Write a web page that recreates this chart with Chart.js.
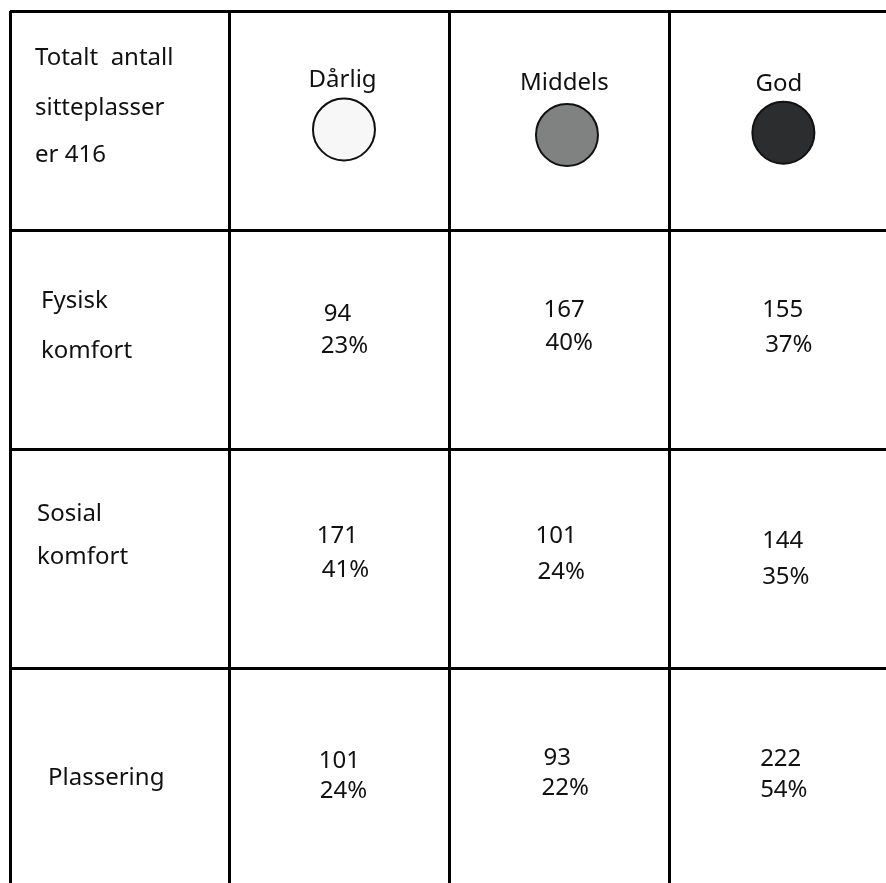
<!DOCTYPE html>
<html>
<head>
<meta charset="utf-8">
<script src="https://cdn.jsdelivr.net/npm/chart.js@4/dist/chart.umd.min.js"></script>
<style>
  html, body { margin: 0; padding: 0; background: #fff; }
  #wrap { width: 886px; height: 883px; }
</style>
</head>
<body>
<div id="wrap"><canvas id="chart" width="886" height="883"></canvas></div>
<script>
// Table content
const totalSeats = 416;
const ratings = ['Dårlig', 'Middels', 'God'];
const ratingColors = ['#f7f7f7', '#808181', '#2b2d2f'];
const aspects = [['Fysisk', 'komfort'], ['Sosial', 'komfort'], ['Plassering']];
const fysiskCounts = [94, 167, 155];
const sosialCounts = [171, 101, 144];
const plasseringCounts = [101, 93, 222];
const fysiskPct = [23, 40, 37];
const sosialPct = [41, 24, 35];
const plasseringPct = [24, 22, 54];

const counts = [fysiskCounts, sosialCounts, plasseringCounts];
const pcts = [fysiskPct, sosialPct, plasseringPct];

// hand-placed look of the original: offsets from cell left / cell middle (px)
const valueNudge = [
    [[94, -26, 91, 6], [94, -30, 96, 3], [93, -30, 96, 5]],
    [[87, -23, 92, 11], [86, -23, 88, 13], [93, -18, 93, 18]],
    [[89, -17, 90, 13], [94, -20, 92, 10], [91, -19, 91, 12]]
];
const circleNudge = [[0.02, 0.04], [0.035, 0.065], [0.02, 0.055]];
const headNudge = [[3, -41], [5, -38], [0, -37]];
const rowLabelNudge = [[31, -39, 11], [27, -45, -2], [38, 0, 0]];

const FONT = '"Noto Sans", "Open Sans", sans-serif';

const circles = ratings.map((r, i) => ({
    x: i + 1.5 + circleNudge[i][0],
    y: 0.5 + circleNudge[i][1]
}));

const textPlugin = {
    id: 'tableText',
    afterDatasetsDraw(chart) {
        const ctx = chart.ctx;
        const xs = chart.scales.x, ys = chart.scales.y;
        const left = c => xs.getPixelForValue(c);
        const mid = r => ys.getPixelForValue(r + 0.5);
        ctx.save();
        ctx.fillStyle = '#111';
        ctx.textBaseline = 'middle';
        ctx.font = '24px ' + FONT;

        // corner cell
        ctx.textAlign = 'left';
        const top = ys.getPixelForValue(0);
        ctx.fillText('Totalt  antall', left(0) + 25, top + 47);
        ctx.fillText('sitteplasser', left(0) + 25, top + 97);
        ctx.fillText('er ' + totalSeats, left(0) + 25, top + 144);

        // header labels
        ctx.textAlign = 'center';
        ratings.forEach((r, i) => {
            const cx = xs.getPixelForValue(i + 1.5) + headNudge[i][0];
            ctx.fillText(r, cx, mid(0) + headNudge[i][1]);
        });

        // row labels
        ctx.textAlign = 'left';
        aspects.forEach((lines, r) => {
            const n = rowLabelNudge[r];
            if (lines.length === 1) {
                ctx.fillText(lines[0], left(0) + n[0], mid(r + 1));
            } else {
                ctx.fillText(lines[0], left(0) + n[0], mid(r + 1) + n[1]);
                ctx.fillText(lines[1], left(0) + n[0], mid(r + 1) + n[2]);
            }
        });

        // values
        counts.forEach((row, r) => {
            row.forEach((v, c) => {
                const n = valueNudge[r][c];
                ctx.fillText(String(v), left(c + 1) + n[0], mid(r + 1) + n[1]);
                ctx.fillText(pcts[r][c] + '%', left(c + 1) + n[2], mid(r + 1) + n[3]);
            });
        });
        ctx.restore();
    }
};

new Chart(document.getElementById('chart'), {
    type: 'scatter',
    data: {
        datasets: [{
            data: circles,
            pointRadius: 31,
            pointHoverRadius: 31,
            pointBackgroundColor: ratingColors,
            pointBorderColor: '#111',
            pointBorderWidth: 2
        }]
    },
    options: {
        responsive: false,
        animation: false,
        events: [],
        layout: { autoPadding: false, padding: { left: 10, top: 11, right: 0, bottom: 0 } },
        plugins: { legend: { display: false }, tooltip: { enabled: false } },
        scales: {
            x: {
                type: 'linear',
                min: 0,
                max: 3.987,
                afterFit: s => { s.height = 0; },
                ticks: { display: false, stepSize: 1, includeBounds: false },
                grid: { color: '#000', lineWidth: 3, drawTicks: false },
                border: { display: false }
            },
            y: {
                type: 'linear',
                reverse: true,
                min: 0,
                max: 3.976,
                afterFit: s => { s.width = 0; },
                ticks: { display: false, stepSize: 1, includeBounds: false },
                grid: { color: '#000', lineWidth: 3, drawTicks: false },
                border: { display: false }
            }
        }
    },
    plugins: [textPlugin]
});
</script>
</body>
</html>
